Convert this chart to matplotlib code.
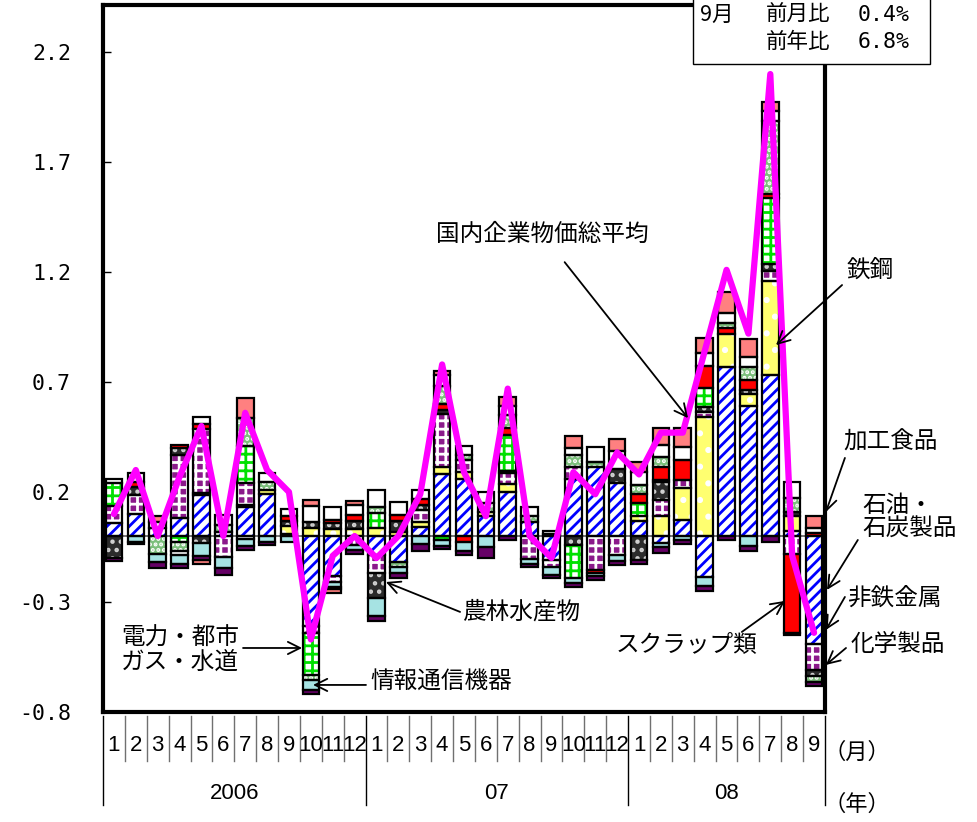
import matplotlib
matplotlib.use("Agg")
import matplotlib.pyplot as plt
import numpy as np
from matplotlib.patches import Rectangle
from matplotlib.lines import Line2D

plt.rcParams['font.family'] = ['Noto Sans CJK JP', 'DejaVu Sans']
plt.rcParams['hatch.linewidth'] = 2.0

# ---- data: contributions to month-on-month change (%pt), Jan 2006 - Sep 2008 ----
month_labels = [str(m) for m in range(1, 13)] * 2 + [str(m) for m in range(1, 10)]
year_labels = ['2006', '07', '08']
year_lengths = [12, 12, 9]

# 国内企業物価総平均 (前月比, %)
total = [0.10, 0.30, 0.00, 0.27, 0.50, 0.00, 0.56, 0.30, 0.20, -0.47, -0.09, 0.00,
         -0.10, 0.00, 0.19, 0.78, 0.29, 0.09, 0.67, 0.00, -0.10, 0.29, 0.19, 0.38,
         0.28, 0.47, 0.47, 0.84, 1.21, 0.92, 2.10, -0.09, -0.44]

oil = [0.06, 0.10, 0.035, 0.08, 0.185, 0.02, 0.133, 0.19, 0.01, -0.41, -0.18, 0.0,
       -0.085, -0.12, 0.04, 0.28, 0.26, 0.09, 0.20, 0.065, -0.11, 0.26, 0.315, 0.24,
       0.07, -0.03, 0.075, -0.185, 0.77, 0.59, 0.73, 0.025, -0.49]
steel = [0, 0, 0, 0, 0.01, 0, 0.01, 0.02, 0.035, 0.035, 0.03, 0.03,
         0.035, 0.02, 0.025, 0.035, 0.03, 0.02, 0.035, 0, 0, 0, 0, 0,
         0.02, 0.09, 0.145, 0.54, 0.15, 0.055, 0.43, 0.065, 0]
nonferrous = [0.075, 0.085, 0, 0.29, 0.29, -0.095, 0.10, 0, 0, -0.03, -0.03, -0.04,
              -0.085, 0, 0.055, 0.24, 0.055, 0, 0.05, -0.105, -0.03, 0.055, -0.155, -0.085,
              0, 0.075, 0.035, 0.025, 0, 0, 0.045, -0.08, -0.12]
farm = [-0.10, 0.04, 0, 0.03, -0.03, 0, 0, 0, 0.025, 0.03, 0.03, 0.04,
        -0.11, 0.05, 0.02, 0.02, 0, 0, 0.01, 0, 0, -0.04, 0, 0.065,
        -0.11, 0.08, 0, 0.02, 0, 0.02, 0.03, 0.02, -0.025]
utility = [0.105, 0, 0, -0.025, 0, 0, 0.165, 0, 0, -0.19, 0, 0,
           0.07, 0, 0, -0.02, 0, 0, 0.165, 0, 0, -0.15, 0, 0,
           0.06, 0.01, 0, 0.09, 0, 0, 0.30, 0, 0]
scrap = [0, 0.02, 0, 0.015, 0.025, 0, 0, 0, 0.02, 0, 0.015, 0.025,
         0, 0.025, 0.03, 0.025, -0.025, 0, 0.03, 0, 0.01, 0, -0.015, 0,
         0.04, 0.06, 0.09, 0.10, 0.025, 0.045, 0.02, -0.36, 0.015]
chemical = [0, 0, -0.08, -0.045, 0, 0.03, 0.13, 0.035, 0, -0.025, 0, 0,
            0.025, -0.02, 0, 0.08, 0.025, 0.04, 0.06, 0.025, 0, 0.055, 0.02, 0,
            0.04, 0.045, 0, 0, 0.025, 0.06, 0.33, 0.065, -0.03]
others = [0.02, 0.04, 0.03, -0.015, 0.03, 0.045, -0.015, 0.04, 0.035, 0.07, 0.055, 0.045,
          0.08, 0.06, 0.04, 0.05, 0.04, 0.05, 0.04, 0.04, 0.015, 0.03, 0.07, 0.08,
          0.06, 0.055, 0.06, 0.055, 0.045, 0.045, 0.045, 0.07, 0.02]
it_equip = [0, -0.025, -0.04, -0.04, -0.06, -0.05, -0.03, -0.025, -0.025, -0.045, -0.02, -0.025,
            -0.085, -0.03, -0.035, -0.025, -0.045, -0.05, 0, -0.02, -0.035, -0.025, -0.01, -0.03,
            0, -0.02, -0.02, -0.04, 0, -0.045, 0, 0, 0]
devices = [-0.015, -0.01, -0.025, -0.02, -0.02, -0.03, -0.02, -0.015, 0, -0.02, -0.01, -0.015,
           -0.02, -0.02, -0.035, -0.015, -0.015, -0.05, -0.02, -0.015, -0.015, -0.015, -0.02, -0.015,
           -0.015, -0.025, -0.015, -0.025, -0.02, -0.025, -0.025, -0.01, -0.015]
food = [0, 0, 0.025, 0, -0.015, 0, 0.09, 0, 0, 0.03, -0.02, 0.02,
        0, 0, 0, 0.02, 0, 0, 0.04, 0, 0, 0.055, 0, 0.055,
        0.045, 0.075, 0.085, 0.07, 0.095, 0.08, 0.045, 0, 0.055]

# stacking order with fill / hatch styles
series = [
    (oil, 'white', '///', '#0000FF'),
    (steel, '#FFFF70', '.', '#FFFFFF'),
    (nonferrous, '#8B1A8B', '++', '#FFFFFF'),
    (farm, '#2B2B2B', '..', '#D0D0D0'),
    (utility, 'white', '++', '#00E000'),
    (scrap, '#FF0000', None, None),
    (chemical, '#7CBF7C', '...', '#FFFFFF'),
    (others, 'white', None, None),
    (it_equip, '#A6E3E3', None, None),
    (devices, '#660066', None, None),
    (food, '#FF8080', None, None),
]

fig = plt.figure(figsize=(9.77, 8.22), dpi=100)
fig.patch.set_facecolor('white')
W, H = 977.0, 822.0
ax = fig.add_axes([103 / W, 1 - 712 / H, 722 / W, 707 / H])

n = len(total)
x = np.arange(n)
width = 0.76
pos_base = np.zeros(n)
neg_base = np.zeros(n)

for vals, face, hatch, hcol in series:
    v = np.asarray(vals, dtype=float)
    for sign in (1, -1):
        mask = (v > 0) if sign > 0 else (v < 0)
        if not mask.any():
            continue
        base = pos_base if sign > 0 else neg_base
        xs, hs, bs = x[mask], v[mask], base[mask]
        ax.bar(xs, hs, bottom=bs, width=width, color=face, linewidth=0, zorder=2)
        if hatch:
            ax.bar(xs, hs, bottom=bs, width=width, facecolor='none',
                   edgecolor=hcol, hatch=hatch, linewidth=0, zorder=2.1)
        ax.bar(xs, hs, bottom=bs, width=width, facecolor='none',
               edgecolor='black', linewidth=1.6, zorder=2.2)
        base[mask] += hs

ax.axhline(0, color='#606060', lw=1.2, zorder=1.5)
ax.plot(x, total, color='#FF00FF', lw=4.5, zorder=5, solid_capstyle='round')

ax.set_xlim(-0.5, n - 0.5)
ax.set_ylim(-0.8, 2.414)
yt = [-0.8, -0.3, 0.2, 0.7, 1.2, 1.7, 2.2]
ax.set_yticks(yt)
ax.set_yticklabels([f'{t:.1f}' for t in yt], fontfamily='DejaVu Sans Mono', fontsize=15.5)
ax.tick_params(axis='y', direction='in', length=6, width=1, pad=23)
ax.set_xticks([])
for s in ax.spines.values():
    s.set_linewidth(3)
    s.set_color('black')

# month / year table under the axis
tr = ax.get_xaxis_transform()
year_edges = np.cumsum([0] + year_lengths) - 0.5
for k in range(n + 1):
    xe = k - 0.5
    if xe in year_edges:
        ax.add_line(Line2D([xe, xe], [-0.006, -0.132], transform=tr, color='black',
                           lw=1.0, clip_on=False))
    else:
        ax.add_line(Line2D([xe, xe], [-0.006, -0.069], transform=tr, color='#707070',
                           lw=1.0, clip_on=False))
for i, m in enumerate(month_labels):
    ax.text(i, -0.047, m, transform=tr, ha='center', va='center', fontsize=16,
            fontfamily='Liberation Sans')
for j, yl in enumerate(year_labels):
    xc = (year_edges[j] + year_edges[j + 1]) / 2
    ax.text(xc, -0.115, yl, transform=tr, ha='center', va='center', fontsize=16,
            fontfamily='Liberation Sans')
ax.text(32.45, -0.057, '（月）', transform=tr, ha='left', va='center', fontsize=16)
ax.text(32.45, -0.131, '（年）', transform=tr, ha='left', va='center', fontsize=16)

# labels with arrows
arrow_kw = dict(arrowstyle='->', color='black', lw=1.3, mutation_scale=22,
                shrinkA=0, shrinkB=0)
labels = [
    ('国内企業物価総平均', (19.6, 1.373), 'center', (20.6, 1.245), (26.24, 0.536)),
    ('鉄鋼', (34.55, 1.209), 'center', (33.28, 1.141), (30.26, 0.868)),
    ('加工食品', (35.5, 0.427), 'center', (33.41, 0.355), (32.54, 0.109)),
    ('石油・\n石炭製品', (34.2, 0.086), 'left', (34.0, -0.018), (32.59, -0.245)),
    ('非鉄金属', (35.65, -0.282), 'center', (33.41, -0.277), (32.54, -0.427)),
    ('化学製品', (35.83, -0.495), 'center', (33.46, -0.509), (32.54, -0.586)),
    ('スクラップ類', (26.19, -0.495), 'center', (28.7, -0.436), (30.67, -0.295)),
    ('農林水産物', (18.6, -0.345), 'center', (15.82, -0.345), (12.43, -0.209)),
    ('電力・都市\nガス・水道', (3.02, -0.518), 'center', (5.9, -0.509), (8.6, -0.509)),
    ('情報通信機器', (14.95, -0.664), 'center', (11.52, -0.677), (9.1, -0.677)),
]
for txt, pos, ha, start, tip in labels:
    ax.text(pos[0], pos[1], txt, ha=ha, va='center', fontsize=17, linespacing=1.05,
            zorder=7, clip_on=False)
    ax.annotate('', xy=tip, xytext=start, xycoords='data', textcoords='data',
                arrowprops=arrow_kw, annotation_clip=False, zorder=7)

# summary box
fig.add_artist(Rectangle((693 / W, 1 - 64 / H), (930 - 693) / W, 80 / H,
                         transform=fig.transFigure, facecolor='white',
                         edgecolor='black', lw=1.0, zorder=10))
fkw = dict(fontsize=15.5, va='center', ha='left', zorder=11)
fig.text(700 / W, 1 - 15 / H, '9月', **fkw)
fig.text(766 / W, 1 - 15 / H, '前月比', **fkw)
fig.text(858 / W, 1 - 15 / H, '0.4%', fontfamily='DejaVu Sans Mono', **fkw)
fig.text(766 / W, 1 - 42 / H, '前年比', **fkw)
fig.text(858 / W, 1 - 42 / H, '6.8%', fontfamily='DejaVu Sans Mono', **fkw)

fig.savefig('out.png', dpi=100, facecolor='white')
